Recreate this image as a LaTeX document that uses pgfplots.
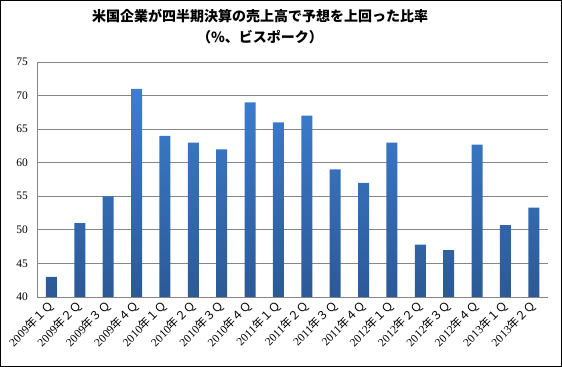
\documentclass[border=0pt]{standalone}
\usepackage{pgfplots}
\pgfplotsset{compat=1.18}
\usepackage{fontspec}
\setmainfont{Liberation Serif}
\newfontfamily\cjk{Noto Sans CJK JP}
\definecolor{bartop}{RGB}{60,126,208}
\definecolor{barbot}{RGB}{44,89,150}
\definecolor{gridc}{RGB}{134,134,134}
\begin{document}
\begin{tikzpicture}
\draw[line width=1.2bp] (0.6bp,0.6bp) rectangle (561.4bp,366.4bp);
\node[font=\cjk\bfseries\fontsize{14bp}{16bp}\selectfont, inner sep=0pt] at (260bp,350.5bp) {米国企業が四半期決算の売上高で予想を上回った比率};
\node[font=\cjk\bfseries\fontsize{14bp}{16bp}\selectfont, inner sep=0pt] at (260bp,330bp) {（\%、ビスポーク）};
\begin{axis}[
  at={(37.3bp,70bp)}, anchor=south west,
  scale only axis, width=510.7bp, height=235bp,
  ybar, bar width=11bp,
  xmin=-0.5, xmax=17.5,
  ymin=40, ymax=75, ytick={40,45,...,75},
  xtick={0,...,17},
  xticklabels={2009{\cjk 年１Ｑ},2009{\cjk 年２Ｑ},2009{\cjk 年３Ｑ},2009{\cjk 年４Ｑ},
               2010{\cjk 年１Ｑ},2010{\cjk 年２Ｑ},2010{\cjk 年３Ｑ},2010{\cjk 年４Ｑ},
               2011{\cjk 年１Ｑ},2011{\cjk 年２Ｑ},2011{\cjk 年３Ｑ},2011{\cjk 年４Ｑ},
               2012{\cjk 年１Ｑ},2012{\cjk 年２Ｑ},2012{\cjk 年３Ｑ},2012{\cjk 年４Ｑ},
               2013{\cjk 年１Ｑ},2013{\cjk 年２Ｑ}},
  /pgf/number format/assume math mode=true,
  yticklabel style={font=\fontsize{11.5bp}{12bp}\selectfont, xshift=-6bp},
  xticklabel style={font=\fontsize{11.5bp}{12bp}\selectfont, rotate=45, anchor=east, xshift=2bp, yshift=-2bp},
  axis x line*=bottom, axis y line*=left,
  axis line style={gridc, line width=0.9bp, -},
  ymajorgrids, grid style={gridc, line width=0.9bp},
  major tick style={draw=none},
  clip=true,
]
\addplot[draw=none, top color=bartop, bottom color=barbot] coordinates {
(0,43) (1,51) (2,55) (3,71) (4,64) (5,63) (6,62) (7,69) (8,66) (9,67)
(10,59) (11,57) (12,63) (13,47.8) (14,47) (15,62.7) (16,50.7) (17,53.3)};
\end{axis}
\end{tikzpicture}
\end{document}
